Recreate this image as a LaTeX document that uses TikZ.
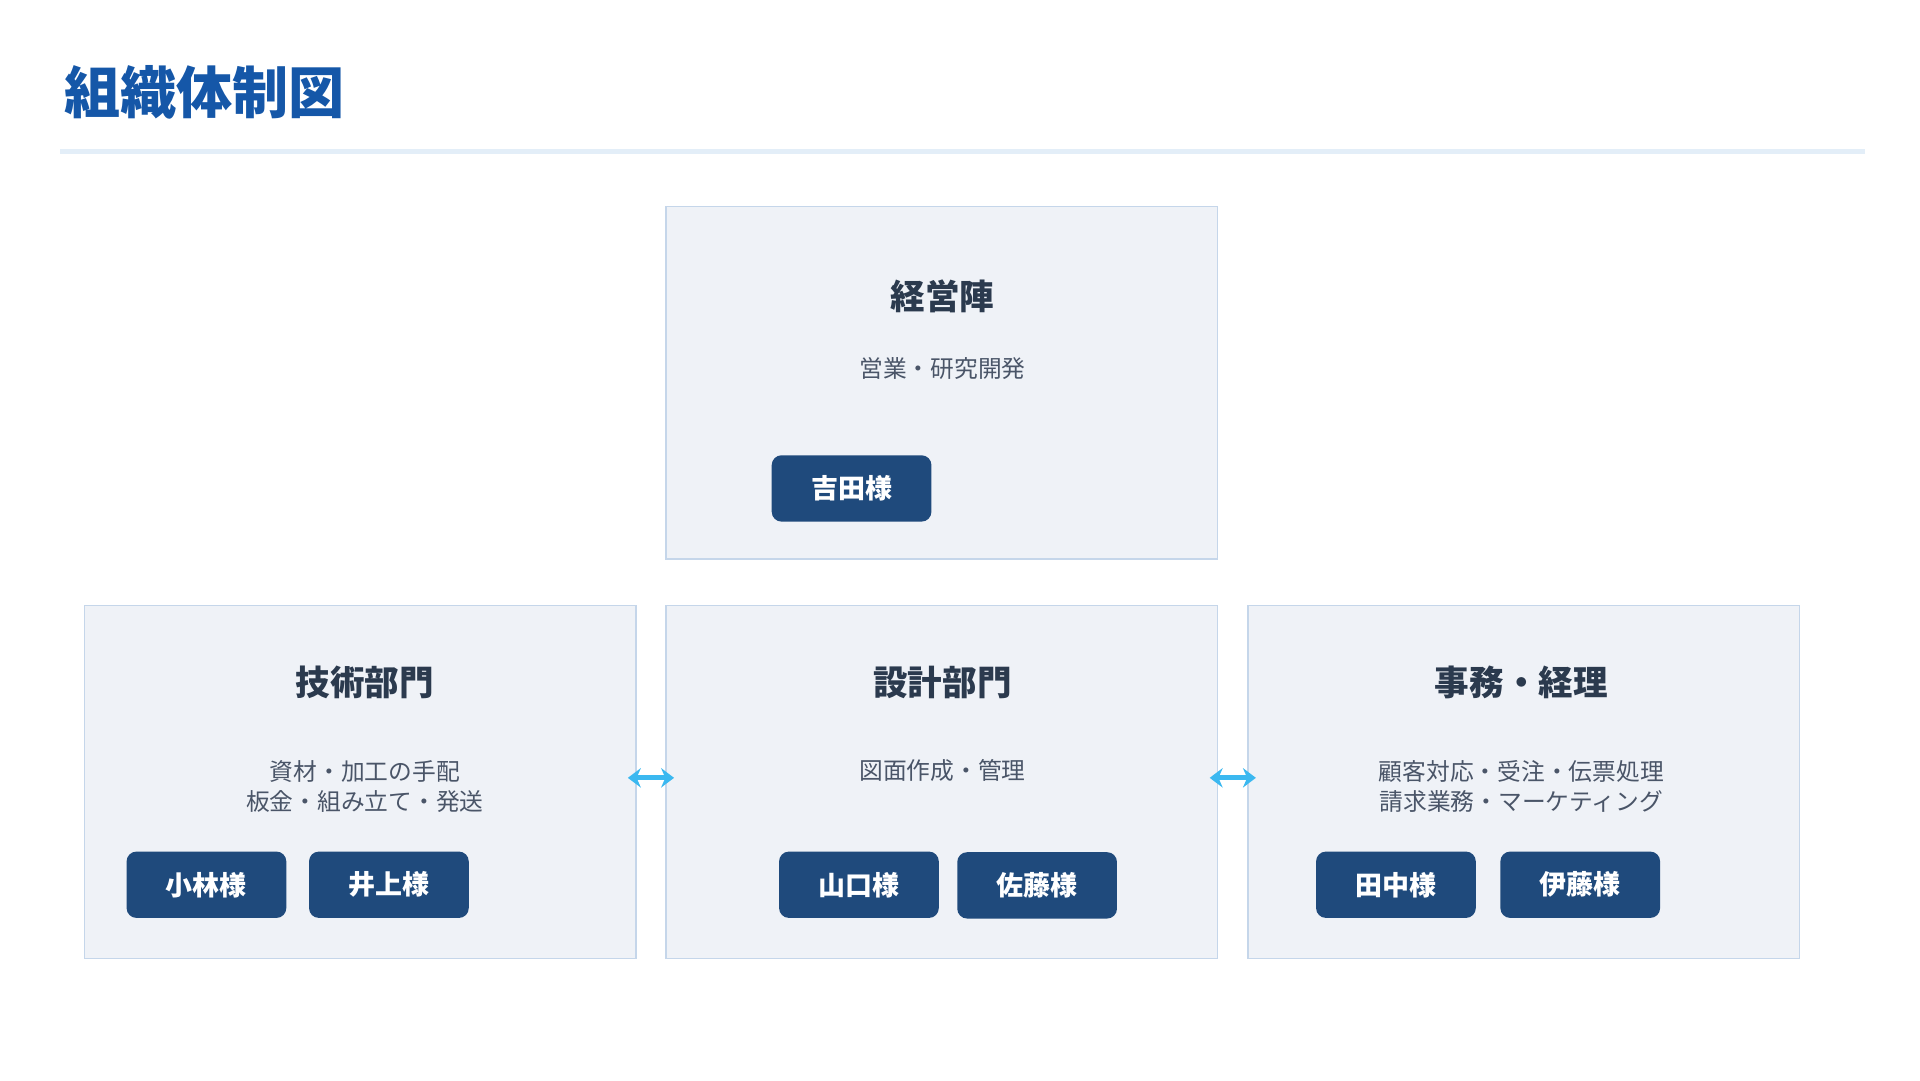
\documentclass[tikz,border=0pt]{standalone}
\usepackage{fontspec}
\setmainfont{Noto Sans CJK JP}
\usetikzlibrary{arrows.meta}
\definecolor{titleblue}{HTML}{1557A8}
\definecolor{rulecol}{HTML}{E3EEF8}
\definecolor{boxfill}{HTML}{EFF2F7}
\definecolor{boxline}{HTML}{C5D6EA}
\definecolor{btnfill}{HTML}{1F4A7C}
\definecolor{headcol}{HTML}{2B3A4E}
\definecolor{subcol}{HTML}{4A5568}
\definecolor{linkcol}{HTML}{3BB8F0}
\begin{document}
\begin{tikzpicture}[x=0.02cm, y=-0.02cm]
		\tikzset{dept/.style={draw=boxline, fill=boxfill, line width=0.6pt, minimum width=8.98cm, minimum height=5.74cm, inner sep=0}}
		\tikzset{head/.style={font=\fontsize{16}{18}\selectfont\bfseries, text=headcol}}
		\tikzset{sub/.style={font=\fontsize{11}{14.2}\selectfont, text=subcol, align=center}}
		\tikzset{member/.style={fill=btnfill, rounded corners=0.16cm, minimum width=2.6cm, minimum height=1.08cm, text=white, font=\fontsize{12.5}{14}\selectfont\bfseries}}
		\tikzset{link/.style={{Stealth[length=6pt,width=9pt]}-{Stealth[length=6pt,width=9pt]}, draw=linkcol, line width=2.4pt, shorten <=-4pt, shorten >=-4pt}}
		\useasboundingbox (0,0) rectangle (1562.5,879);
		% title
		\node[anchor=west, text=titleblue, font=\fontsize{26}{30}\selectfont\bfseries] (title) at (46,75) {組織体制図};
		\draw[rulecol, line width=2.2pt] (49,123) -- (1518,123);
		% boxes
		\node[dept] (top) at (766.5,311.5) {};
		\node[dept] (tech) at (293,636.5) {};
		\node[dept] (design) at (766.5,636.5) {};
		\node[dept] (office) at (1240,636.5) {};
		% top
		\node[head] (tophead) at (767,241) {経営陣};
		\node[sub] (topsub) at (767,300) {営業・研究開発};
		\node[member] (yoshida) at (693,397.5) {吉田様};
		% tech
		\node[head] (techhead) at (297,555) {技術部門};
		\node[sub] (techsub) at (297,640) {資材・加工の手配\\板金・組み立て・発送};
		\node[member] (kobayashi) at (168,720) {小林様};
		\node[member] (inoue) at (316.5,720) {井上様};
		% design
		\node[head] (designhead) at (767,555) {設計部門};
		\node[sub] (designsub) at (767,627) {図面作成・管理};
		\node[member] (yamaguchi) at (699,720) {山口様};
		\node[member] (sato) at (844,720.5) {佐藤様};
		% office
		\node[head] (officehead) at (1238,555) {事務・経理};
		\node[sub] (officesub) at (1238,640) {顧客対応・受注・伝票処理\\請求業務・マーケティング};
		\node[member] (tanaka) at (1136,720) {田中様};
		\node[member] (ito) at (1286,720) {伊藤様};
		% links
		\draw[link] ([yshift=0.07cm]tech.east) -- ([yshift=0.07cm]design.west);
		\draw[link] ([yshift=0.07cm]design.east) -- ([yshift=0.07cm]office.west);
	\end{tikzpicture}
\end{document}
